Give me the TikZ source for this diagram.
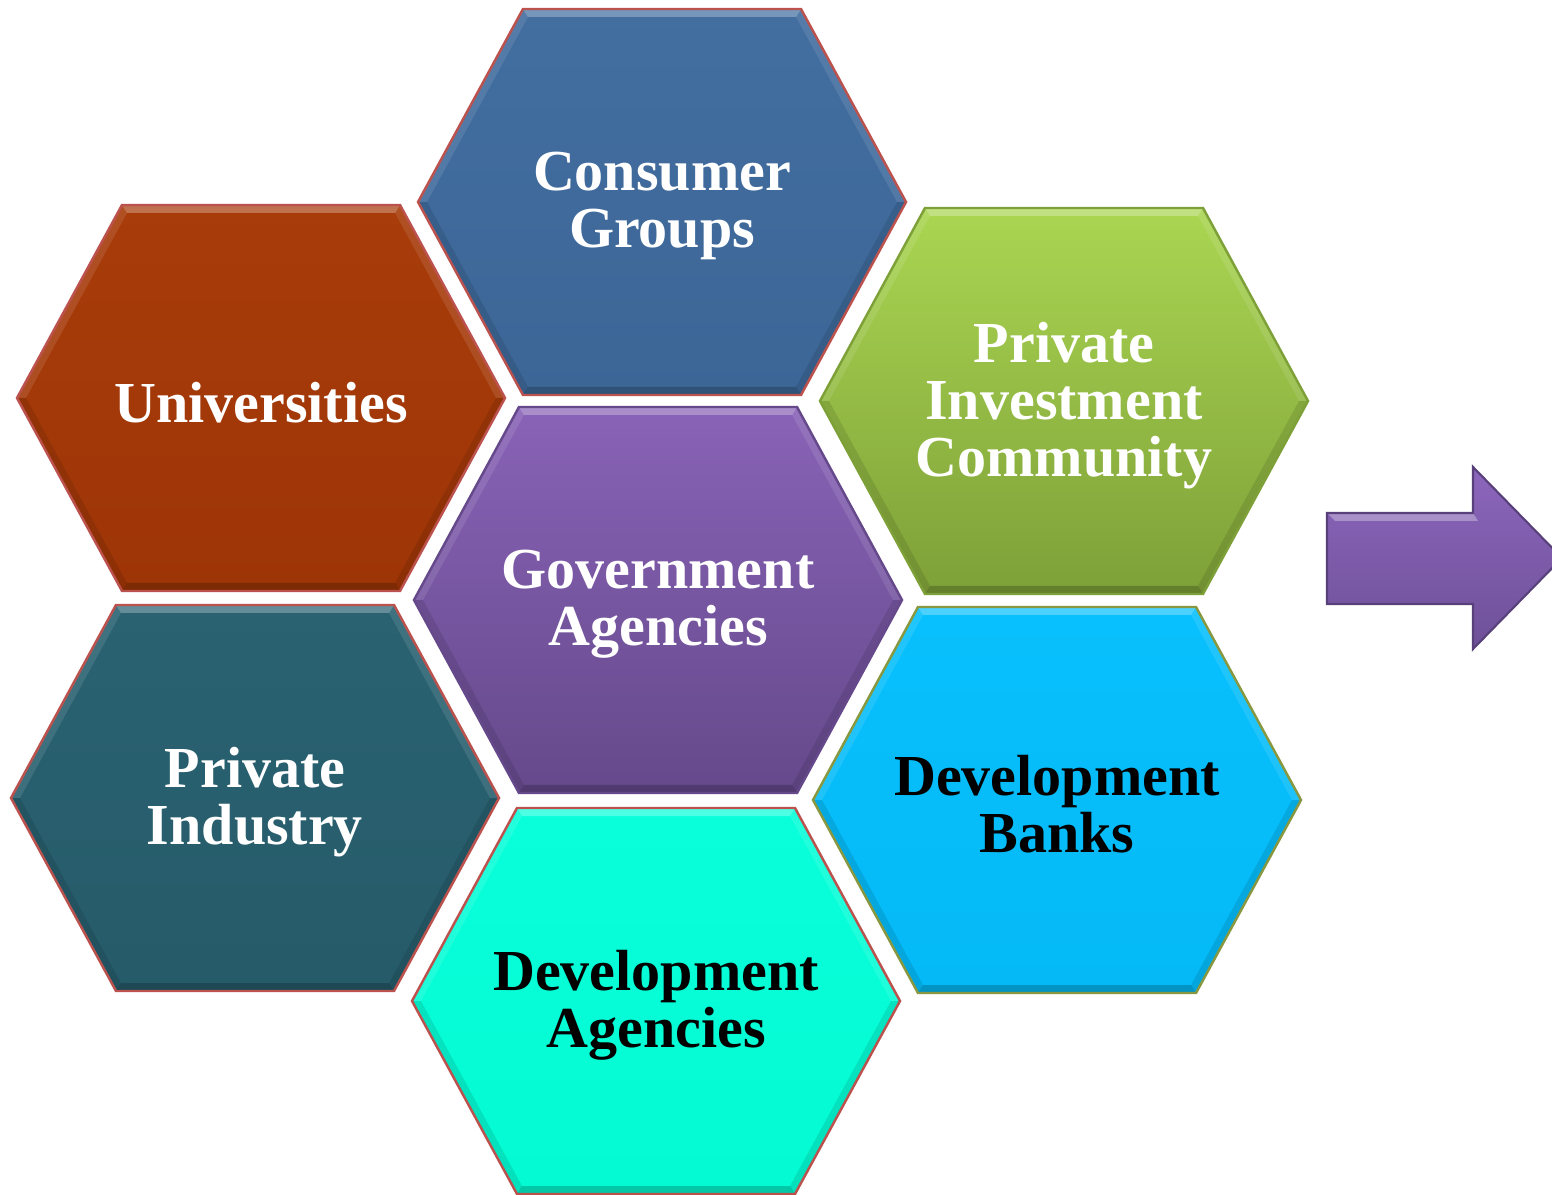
\documentclass[tikz,border=0pt]{standalone}
\usepackage{fontspec}
\setmainfont{Liberation Serif}
\usepackage{xcolor}
\usepackage{tikz}

% Couleurs des cellules
\definecolor{consTop}{RGB}{66,110,160}
\definecolor{consBot}{RGB}{60,102,150}
\definecolor{univTop}{RGB}{168,60,10}
\definecolor{univBot}{RGB}{158,53,7}
\definecolor{invTop}{RGB}{170,214,82}
\definecolor{invBot}{RGB}{126,160,56}
\definecolor{govTop}{RGB}{137,99,183}
\definecolor{govBot}{RGB}{101,73,139}
\definecolor{indTop}{RGB}{42,98,114}
\definecolor{indBot}{RGB}{38,91,105}
\definecolor{bankTop}{RGB}{8,192,253}
\definecolor{bankBot}{RGB}{4,185,246}
\definecolor{agTop}{RGB}{8,255,218}
\definecolor{agBot}{RGB}{4,250,210}
\definecolor{redLine}{RGB}{188,82,78}
\definecolor{oliveLine}{RGB}{135,152,64}
\definecolor{arrowTop}{RGB}{140,102,188}
\definecolor{arrowBot}{RGB}{110,80,152}

% Cellule hexagonale : x, y, couleur haut, couleur bas, couleur du bord
\newcommand\hexcell[5]{%
  \begin{scope}[shift={(#1,#2)}]
    \shade[top color=#3, bottom color=#4] (-244,0) -- (-139,193) -- (139,193) -- (244,0) -- (139,-193) -- (-139,-193) -- cycle;
    % biseau
    \fill[white, opacity=.28] (-139,193) -- (139,193) -- (134,185) -- (-134,185) -- cycle;
    \fill[white, opacity=.1] (139,193) -- (244,0) -- (235,0) -- (134,185) -- cycle;
    \fill[white, opacity=.1] (-139,193) -- (-244,0) -- (-235,0) -- (-134,185) -- cycle;
    \fill[black, opacity=.1] (244,0) -- (139,-193) -- (134,-185) -- (235,0) -- cycle;
    \fill[black, opacity=.1] (-244,0) -- (-139,-193) -- (-134,-185) -- (-235,0) -- cycle;
    \fill[black, opacity=.2] (139,-193) -- (-139,-193) -- (-134,-185) -- (134,-185) -- cycle;
    % bord
    \draw[#5, line width=0.7pt] (-244,0) -- (-139,193) -- (139,193) -- (244,0) -- (139,-193) -- (-139,-193) -- cycle;
  \end{scope}}

\begin{document}
\begin{tikzpicture}[x=0.01cm, y=0.01cm,
    celltext/.style={align=center, text=white, yshift=-1.2pt, font=\bfseries\fontsize{16.5}{16.2}\selectfont},
    darktext/.style={celltext, text=black}]

  % Cadre
  \useasboundingbox (0,-1195) rectangle (1552,0);
  \clip (0,-1195) rectangle (1552,0);

  % Cellules
  \hexcell{662}{-202}{consTop}{consBot}{redLine}
  \hexcell{261}{-398}{univTop}{univBot}{redLine}
  \hexcell{1064}{-401}{invTop}{invBot}{invBot}
  \hexcell{658}{-600}{govTop}{govBot}{govBot}
  \hexcell{255}{-798}{indTop}{indBot}{redLine}
  \hexcell{1057}{-800}{bankTop}{bankBot}{oliveLine}
  \hexcell{656}{-1001}{agTop}{agBot}{redLine}

  % Textes
  \node[celltext] (consumer) at (662,-202) {Consumer\\Groups};
  \node[celltext] (univ) at (261,-398) {Universities};
  \node[celltext] (invest) at (1064,-401) {Private\\Investment\\Community};
  \node[celltext] (gov) at (658,-600) {Government\\Agencies};
  \node[celltext] (industry) at (255,-798) {Private\\Industry};
  \node[darktext] (banks) at (1057,-800) {Development\\Banks};
  \node[darktext] (agencies) at (656,-1001) {Development\\Agencies};

  % Flèche
  \shade[top color=arrowTop, bottom color=arrowBot] (1327,-513) -- (1473,-513) -- (1473,-467) -- (1562,-558) -- (1473,-649) -- (1473,-604) -- (1327,-604) -- cycle;
  \fill[white, opacity=.3] (1327,-513) -- (1473,-513) -- (1478,-521) -- (1335,-521) -- cycle;
  \draw[arrowBot!80!black, line width=0.6pt] (1327,-513) -- (1473,-513) -- (1473,-467) -- (1562,-558) -- (1473,-649) -- (1473,-604) -- (1327,-604) -- cycle;
\end{tikzpicture}
\end{document}
